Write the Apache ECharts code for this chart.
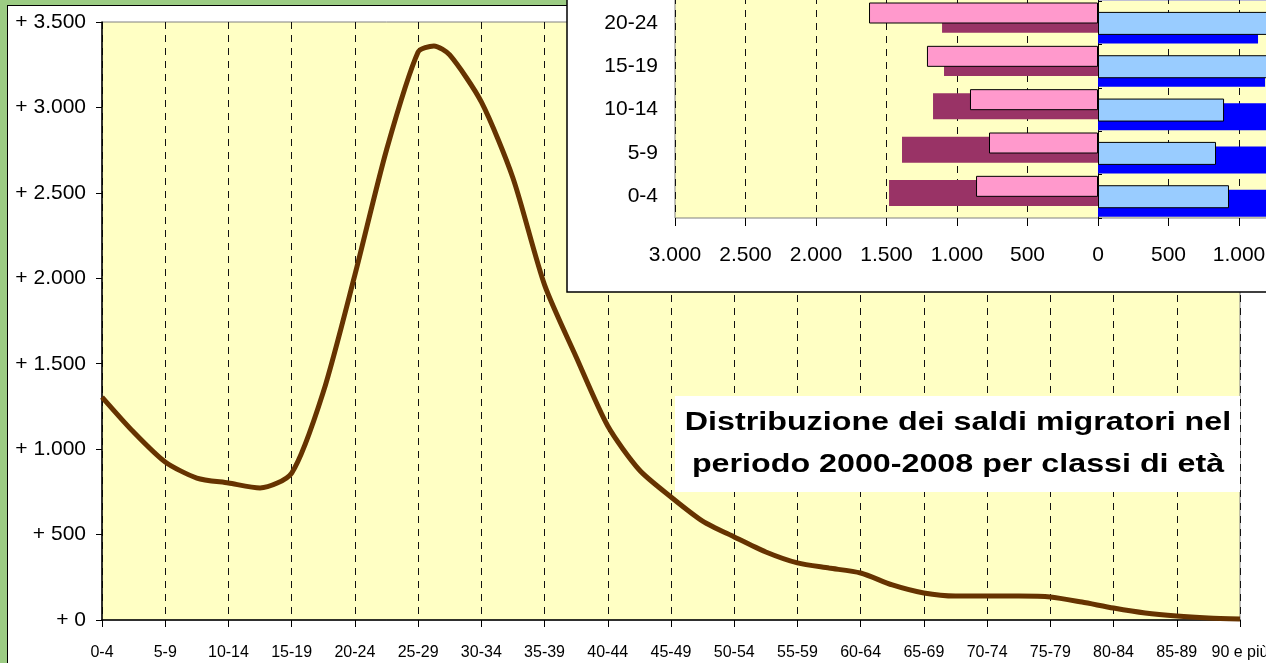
<!DOCTYPE html>
<html>
<head>
<meta charset="utf-8">
<script src="https://cdn.jsdelivr.net/npm/echarts@6/dist/echarts.min.js"></script>
<style>
  html, body { margin: 0; padding: 0; }
  body { width: 1266px; height: 663px; background: #9ccc84; position: relative; overflow: hidden; }
  #frame { position: absolute; left: 7px; top: 5px; width: 1270px; height: 670px; background: #fff; border-left: 1.5px solid #000; border-top: 1.5px solid #000; }
  #main { position: absolute; left: 0; top: 0; width: 1266px; height: 663px; }
</style>
</head>
<body>
<div id="frame"></div>
<div id="main"></div>
<script>
// classi di età (asse x del grafico principale)
var ageGroups = ['0-4', '5-9', '10-14', '15-19', '20-24', '25-29', '30-34', '35-39', '40-44', '45-49',
  '50-54', '55-59', '60-64', '65-69', '70-74', '75-79', '80-84', '85-89', '90 e più'];
var yTicks = [0, 500, 1000, 1500, 2000, 2500, 3000, 3500];

// posizione lungo l'asse (indice della classe) e saldo migratorio
var linePos = [0, 0.5, 1, 1.5, 2, 2.5, 3, 3.5, 4, 4.5, 5, 5.25, 5.5, 6, 6.5, 7, 7.5, 8, 8.5, 9, 9.5,
  10, 10.5, 11, 11.5, 12, 12.5, 13, 13.5, 14, 14.5, 15, 15.5, 16, 16.5, 17, 17.5, 18];
var lineValues = [1305, 1100, 925, 831, 802, 773, 860, 1334, 2020, 2751, 3324, 3360, 3307, 3032, 2587,
  1961, 1539, 1135, 878, 720, 579, 486, 398, 334, 304, 275, 205, 158, 140, 140, 140, 135, 105, 70, 41,
  23, 12, 6];

// piramide (riquadro in alto a destra)
var pyrAges = ['0-4', '5-9', '10-14', '15-19', '20-24', '25-29'];
var pyrTicks = [-3000, 3000, 500];
var pyrPink = [-865, -773, -908, -1213, -1624, -2100];
var pyrPurple = [-1482, -1390, -1170, -1092, -1106, -1500];
var pyrLightBlue = [929, 837, 894, 1300, 1450, 1900];
var pyrBlue = [1500, 1420, 1300, 1185, 1135, 1400];

var sans = "'Liberation Sans', Arial, sans-serif";

function fmtIt(v) {
  return String(Math.abs(v)).replace(/\B(?=(\d{3})+(?!\d))/g, '.');
}

(function () {
  var myChart = echarts.init(document.getElementById('main'));
  var lineData = linePos.map(function (p, i) { return [p, lineValues[i]]; });

  var option = {
    backgroundColor: 'transparent',
    animation: false,
    grid: [
      {
        left: 102, right: 26, top: 22, bottom: 43, outerBoundsMode: 'none',
        show: true, backgroundColor: '#ffffc4', borderColor: '#808080', borderWidth: 1, z: 0
      },
      {
        left: 675, right: -255, top: -42, bottom: 445, outerBoundsMode: 'none',
        show: true, backgroundColor: '#ffffc4', borderColor: '#808080', borderWidth: 1, z: 4
      }
    ],
    xAxis: [
      {
        gridIndex: 0,
        type: 'value',
        min: 0, max: ageGroups.length - 1, interval: 1,
        axisLine: { lineStyle: { color: '#000', width: 1.5 } },
        axisTick: { show: true, length: 7, lineStyle: { color: '#000' } },
        axisLabel: {
          color: '#000', fontFamily: sans, fontSize: 16, margin: 25, hideOverlap: false,
          formatter: function (v) { return ageGroups[Math.round(v)]; }
        },
        splitLine: { show: true, lineStyle: { color: '#111', type: [7, 6], width: 1 } }
      },
      {
        gridIndex: 1,
        type: 'value',
        min: pyrTicks[0], max: pyrTicks[1], interval: pyrTicks[2],
        z: 4,
        axisLine: { lineStyle: { color: '#000', width: 1.5 } },
        axisTick: { show: true, length: 8, lineStyle: { color: '#000' } },
        axisLabel: {
          color: '#000', fontFamily: sans, fontSize: 21, margin: 27, hideOverlap: false,
          showMinLabel: true, formatter: fmtIt
        },
        splitLine: { show: true, lineStyle: { color: '#111', type: [7, 6], width: 1 } }
      }
    ],
    yAxis: [
      {
        gridIndex: 0,
        type: 'value',
        min: yTicks[0], max: yTicks[yTicks.length - 1], interval: yTicks[1] - yTicks[0],
        axisLine: { show: true, lineStyle: { color: '#000', width: 1.5 } },
        axisTick: { show: true, length: 6, lineStyle: { color: '#000' } },
        axisLabel: {
          color: '#000', fontFamily: sans, fontSize: 21, margin: 16,
          formatter: function (v) { return '+ ' + fmtIt(v); }
        },
        splitLine: { show: false }
      },
      {
        gridIndex: 1,
        type: 'category',
        data: pyrAges,
        z: 4,
        axisLine: { show: false, onZero: false },
        axisTick: { show: false },
        axisLabel: { color: '#000', fontFamily: sans, fontSize: 21, margin: 17 }
      },
      {
        gridIndex: 1,
        type: 'category',
        data: pyrAges,
        z: 4,
        axisLine: { show: true, onZero: true, lineStyle: { color: '#000', width: 1 } },
        axisTick: { show: true, length: 4, lineStyle: { color: '#000' } },
        axisLabel: { show: false }
      }
    ],
    graphic: [
      {
        type: 'rect', z: 3,
        shape: { x: 567, y: -10, width: 800, height: 302 },
        style: { fill: '#fff', stroke: '#000', lineWidth: 1.5 }
      },
      {
        type: 'rect', z: 10,
        shape: { x: 675, y: 396, width: 565, height: 96 },
        style: { fill: '#fff' }
      },
      {
        type: 'text', z: 11,
        x: 958, y: 444, scaleX: 1.24,
        style: {
          text: 'Distribuzione dei saldi migratori nel\nperiodo 2000-2008 per classi di età',
          fill: '#000', font: 'bold 26px ' + sans,
          align: 'center', verticalAlign: 'middle', lineHeight: 42
        }
      }
    ],
    series: [
      {
        name: 'saldo',
        type: 'line',
        xAxisIndex: 0, yAxisIndex: 0,
        data: lineData,
        smooth: 0.25,
        showSymbol: false,
        lineStyle: { color: '#663300', width: 5 },
        z: 2
      },
      {
        type: 'bar', xAxisIndex: 1, yAxisIndex: 1,
        data: pyrPink, barWidth: 21, barGap: '-80%', z: 6,
        itemStyle: { color: '#ff99cc', borderColor: '#000', borderWidth: 1 }
      },
      {
        type: 'bar', xAxisIndex: 1, yAxisIndex: 1,
        data: pyrPurple, barWidth: 26, barGap: '-80%', z: 5,
        itemStyle: { color: '#993366' }
      },
      {
        type: 'bar', xAxisIndex: 1, yAxisIndex: 1,
        data: pyrLightBlue, barWidth: 23, barGap: '-80%', z: 6,
        itemStyle: { color: '#99ccff', borderColor: '#000', borderWidth: 1 }
      },
      {
        type: 'bar', xAxisIndex: 1, yAxisIndex: 1,
        data: pyrBlue, barWidth: 27, barGap: '-80%', z: 5,
        itemStyle: { color: '#0000ff' }
      }
    ]
  };
  myChart.setOption(option);
  window.addEventListener('resize', function () {
    myChart.resize();
  });
})();
</script>
</body>
</html>
